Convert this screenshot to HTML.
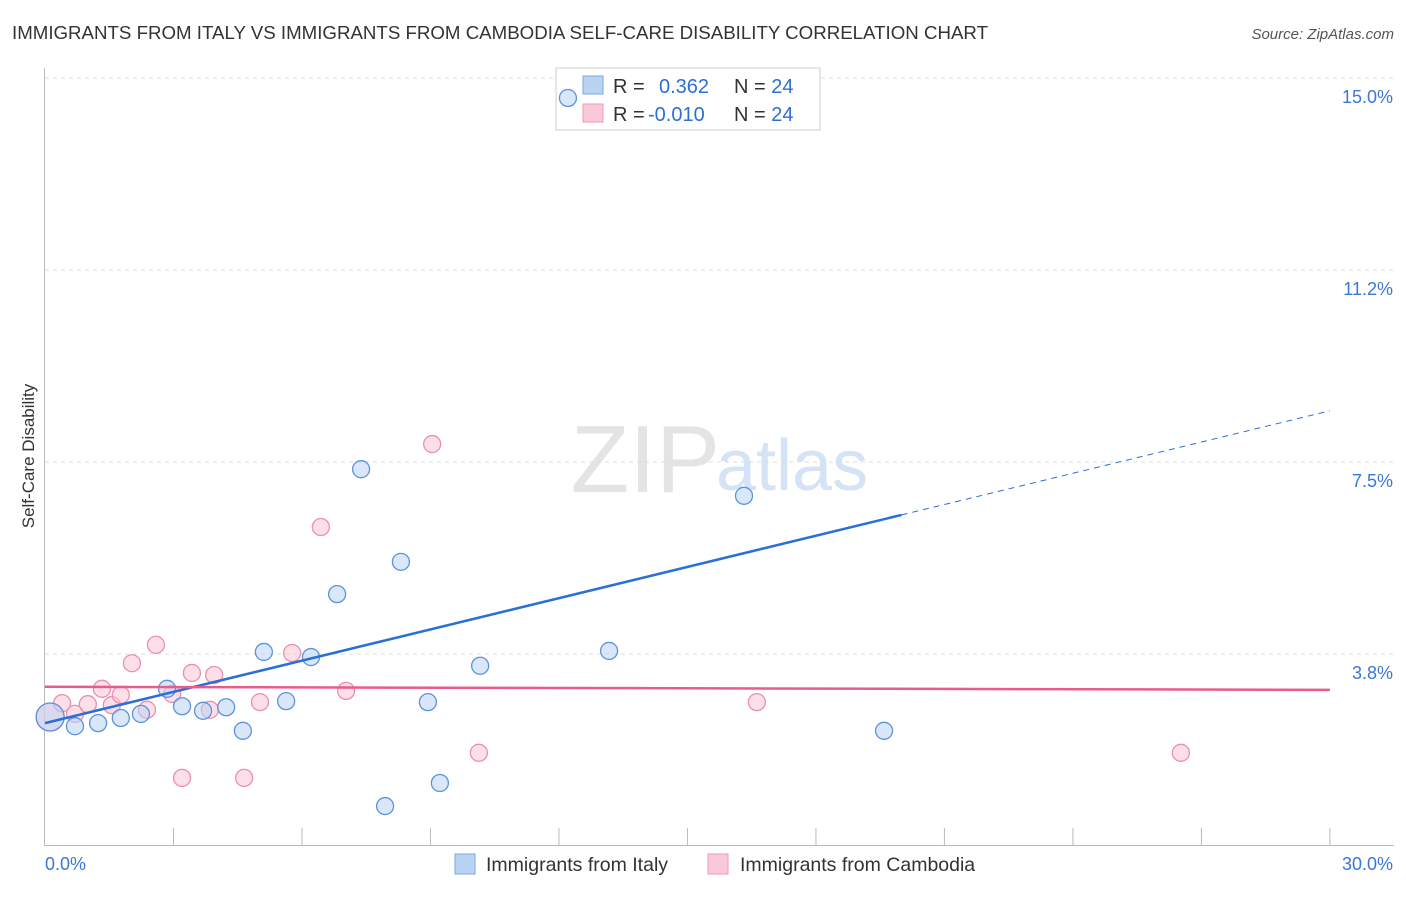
<!DOCTYPE html>
<html><head><meta charset="utf-8"><style>
body{margin:0;background:#fff;font-family:"Liberation Sans",sans-serif;}
svg text{font-family:"Liberation Sans",sans-serif;}
</style></head><body>
<svg id="c" width="1406" height="892" xmlns="http://www.w3.org/2000/svg">
<text x="12" y="39" font-size="18.5" textLength="976" lengthAdjust="spacingAndGlyphs" fill="#333">IMMIGRANTS FROM ITALY VS IMMIGRANTS FROM CAMBODIA SELF-CARE DISABILITY CORRELATION CHART</text>
<text x="1394" y="39" font-size="15" fill="#555" font-style="italic" text-anchor="end">Source: ZipAtlas.com</text>
<text x="720" y="492" font-size="96" fill="#e4e4e4" text-anchor="end" font-family="Liberation Serif">ZIP</text>
<text x="716" y="490" font-size="72" fill="#d4e3f5">atlas</text>
<text transform="translate(34,456) rotate(-90)" font-size="17" fill="#333" text-anchor="middle">Self-Care Disability</text>
<g id="grid"></g>
<g>
<rect x="556" y="68" width="264" height="62" fill="#fff" stroke="#ccc"/>
<rect x="583" y="76" width="20" height="18" fill="#b9d3f3" stroke="#7aa7e0"/>
<rect x="583" y="104" width="20" height="18" fill="#fac9d8" stroke="#ee9ab4"/>
<text x="613" y="93" font-size="20" fill="#333">R = <tspan fill="#2e6fd0" x="659">0.362</tspan><tspan x="734">N = </tspan><tspan fill="#2e6fd0">24</tspan></text>
<text x="613" y="121" font-size="20" fill="#333">R = <tspan fill="#2e6fd0" x="648">-0.010</tspan><tspan x="734">N = </tspan><tspan fill="#2e6fd0">24</tspan></text>
</g>
<g id="pts"></g><g id="lines"></g>
<g>
<rect x="455" y="854" width="20" height="20" fill="#b9d3f3" stroke="#7aa7e0"/>
<text x="486" y="871" font-size="19.5" fill="#333">Immigrants from Italy</text>
<rect x="708" y="854" width="20" height="20" fill="#fac9d8" stroke="#ee9ab4"/>
<text x="740" y="871" font-size="19.5" fill="#333">Immigrants from Cambodia</text>
</g>
</svg>
<script>
const yTicks=[3.75,7.5,11.25,15];
const yTickLabels=["3.8%","7.5%","11.2%","15.0%"];
const xTickLabels=["0.0%","30.0%"];
const italyX=[0.12,0.70,1.24,1.77,2.24,2.85,3.20,3.69,4.23,4.62,5.11,5.63,6.21,6.82,7.38,7.94,8.31,8.94,9.22,10.16,12.21,13.17,16.32,19.59];
const italyY=[2.52,2.34,2.40,2.50,2.58,3.07,2.73,2.64,2.71,2.25,3.79,2.83,3.69,4.92,7.36,0.78,5.55,2.81,1.23,3.52,14.61,3.81,6.84,2.25];
const cambX=[0.12,0.40,0.70,1.00,1.33,1.56,1.77,2.03,2.38,2.59,2.97,3.20,3.43,3.85,3.95,4.65,5.02,5.77,6.44,7.03,9.04,10.13,16.62,26.52];
const cambY=[2.52,2.79,2.58,2.77,3.07,2.75,2.95,3.57,2.66,3.93,2.97,1.33,3.38,2.66,3.34,1.33,2.81,3.77,6.23,3.03,7.85,1.82,2.81,1.82];
const italyTrend=[2.40,8.50];
const cambTrend=[3.11,3.05];
const NS="http://www.w3.org/2000/svg";
const X=v=>45+v*42.83, Y=v=>846-v*51.2;
function mk(t,a,p){const e=document.createElementNS(NS,t);for(const k in a)e.setAttribute(k,a[k]);p.appendChild(e);return e;}
const g=document.getElementById('grid');
yTicks.forEach((t,i)=>{
 const l=mk('line',{x1:45,x2:1394,y1:Y(t),y2:Y(t),stroke:'#ddd','stroke-dasharray':'4,4'},g);
 
 
 const tx=mk('text',{x:1393,y:Y(t)+25,'font-size':18,fill:'#3a78d4','text-anchor':'end'},g);
 tx.textContent=yTickLabels[i];
 
 
});
mk('line',{x1:44.5,x2:44.5,y1:68,y2:846,stroke:'#bbb'},g);
mk('line',{x1:44,x2:1394,y1:845.5,y2:845.5,stroke:'#bbb'},g);
for(let i=1;i<=10;i++){mk('line',{x1:X(i*3),x2:X(i*3),y1:828,y2:846,stroke:'#bbb'},g);}
[[0,'start',45],[30,'end',1393]].forEach((d,i)=>{const t=mk('text',{x:d[2],y:870,'font-size':18,fill:'#3a78d4','text-anchor':d[1]},g);t.textContent=xTickLabels[i];
 
 });
const p=document.getElementById('pts');
function pts(xs,ys,fill,stroke,name){xs.forEach((x,i)=>{const r=i==0?14:8.5;
 const c=mk('circle',{cx:X(x),cy:Y(ys[i]),r:r,fill:fill,'fill-opacity':0.55,stroke:stroke,'stroke-width':1.3},p);
 
 });}
pts(cambX,cambY,'#f9c4d5','#eb8fae','point-cambodia');
pts(italyX,italyY,'#b9d3f3','#5b93dc','point-italy');
const L=document.getElementById('lines');
const iy=x=>italyTrend[0]+(italyTrend[1]-italyTrend[0])*x/30;
let a=mk('line',{x1:X(0),y1:Y(iy(0)),x2:X(20),y2:Y(iy(20)),stroke:'#2a6fd6','stroke-width':2.5},L);


let b=mk('line',{x1:X(20),y1:Y(iy(20)),x2:X(30),y2:Y(iy(30)),stroke:'#2a6fd6','stroke-width':1,'stroke-dasharray':'6,5'},L);


let c=mk('line',{x1:X(0),y1:Y(cambTrend[0]),x2:X(30),y2:Y(cambTrend[1]),stroke:'#e85c8a','stroke-width':2.5},L);


</script>
</body></html>
